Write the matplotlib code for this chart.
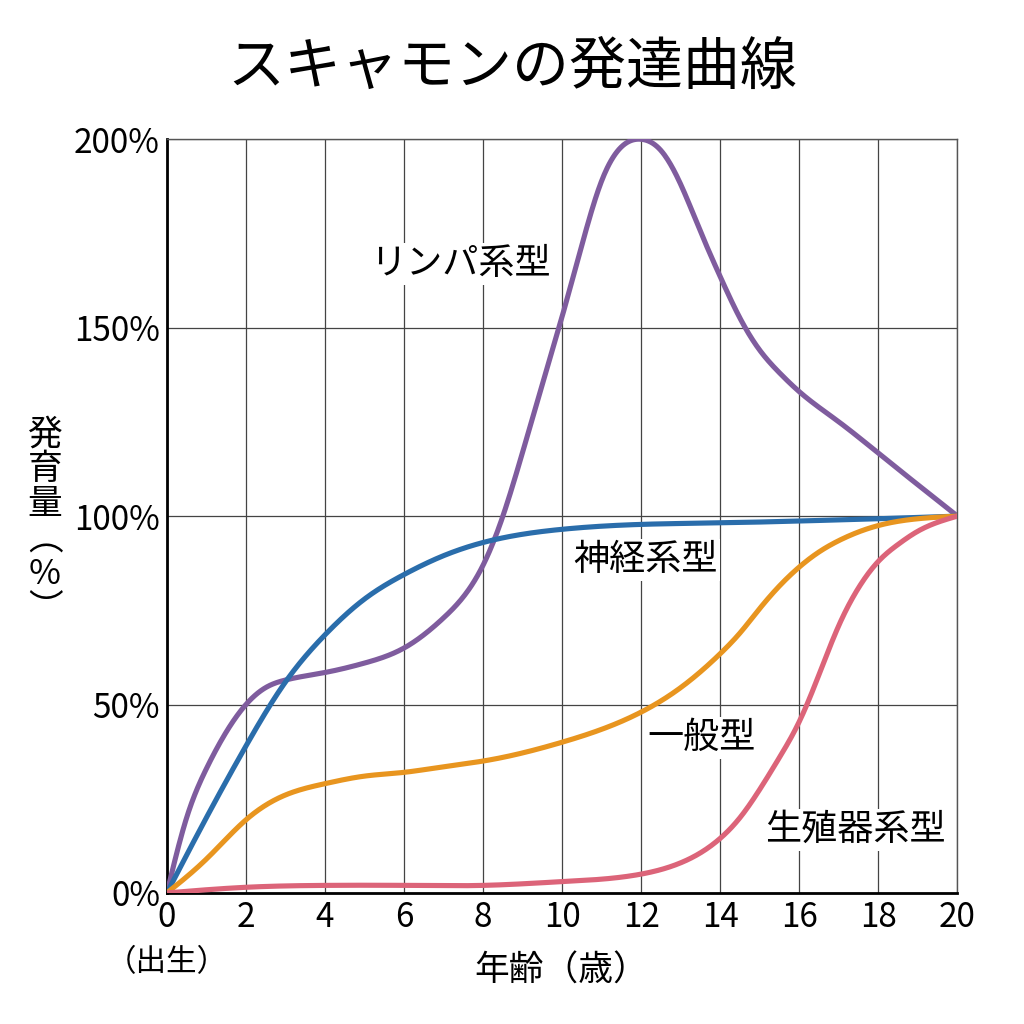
import numpy as np
import matplotlib.pyplot as plt

plt.rcParams['font.family'] = ['Noto Sans CJK JP', 'DejaVu Sans']

# 年齢（歳）と発育量（%）
lymph_age = [0, 0.5, 1, 2, 2.5, 3, 4, 5, 6, 7, 8, 8.5, 9, 9.5, 10, 10.5, 11, 11.5, 12,
             12.5, 13, 13.5, 14, 14.5, 15, 15.5, 16, 17, 18, 19, 20]
lymph_pct = [0, 20, 33, 50, 54.5, 56.5, 58.5, 61, 65, 73, 87, 100, 117, 135, 153, 172, 189, 198, 200,
             197, 188, 175.5, 163.5, 152.5, 144, 138, 133, 125, 116.7, 108.3, 100]

neural_age = [0, 1, 2, 3, 4, 5, 6, 7, 8, 10, 12, 14, 16, 18, 20]
neural_pct = [0, 20, 39, 56, 68.5, 78, 84.5, 89.5, 93, 96.5, 97.8, 98.2, 98.7, 99.3, 100]

general_age = [0, 1, 2, 3, 4, 5, 6, 7, 8, 10, 12, 13, 14, 14.5, 15, 15.5, 16, 16.5, 17, 18, 19, 20]
general_pct = [0, 9, 19.4, 26, 29, 31, 32, 33.5, 35, 40, 48, 54.5, 63.5, 69, 75.5, 81.5, 86.5, 90.5,
               93.5, 97.5, 99.3, 100]

repro_age = [0, 2, 4, 6, 8, 10, 12, 13, 14, 14.5, 15, 15.5, 16, 16.5, 17, 17.5, 18, 18.5, 19, 20]
repro_pct = [0, 1.5, 2, 2, 2, 3, 5, 8, 14.5, 20, 27.5, 36, 45.5, 58, 71, 81, 88, 92.5, 96, 100]

series = [
    (lymph_age, lymph_pct, '#7f5c9e'),
    (neural_age, neural_pct, '#2a6dab'),
    (general_age, general_pct, '#e8951f'),
    (repro_age, repro_pct, '#dc6479'),
]


def spline(x, y, xs):
    # natural cubic spline, just to draw the read points as a smooth curve
    x = np.asarray(x, float)
    y = np.asarray(y, float)
    n = len(x)
    h = np.diff(x)
    A = np.zeros((n, n))
    b = np.zeros(n)
    A[0, 0] = A[-1, -1] = 1
    for i in range(1, n - 1):
        A[i, i - 1] = h[i - 1]
        A[i, i] = 2 * (h[i - 1] + h[i])
        A[i, i + 1] = h[i]
        b[i] = 6 * ((y[i + 1] - y[i]) / h[i] - (y[i] - y[i - 1]) / h[i - 1])
    M = np.linalg.solve(A, b)
    idx = np.clip(np.searchsorted(x, xs) - 1, 0, n - 2)
    hi = h[idx]
    a = x[idx + 1] - xs
    c = xs - x[idx]
    return (M[idx] * a**3 / (6 * hi) + M[idx + 1] * c**3 / (6 * hi)
            + (y[idx] / hi - M[idx] * hi / 6) * a + (y[idx + 1] / hi - M[idx + 1] * hi / 6) * c)


fig = plt.figure(figsize=(10.24, 10.24), dpi=100)
ax = fig.add_axes([0.163, 0.128, 0.772, 0.736])

xs = np.linspace(0, 20, 800)
for age, pct, col in series:
    ax.plot(xs, spline(age, pct, xs), color=col, lw=3.7, solid_capstyle='round', zorder=3)

ax.set_xlim(0, 20)
ax.set_ylim(0, 200)
ax.set_xticks(range(0, 21, 2))
ax.set_yticks([0, 50, 100, 150, 200])
ax.set_yticklabels(['0%', '50%', '100%', '150%', '200%'])
ax.tick_params(length=0, labelsize=24, pad=5)
ax.grid(True, color='#444444', lw=0.9)

for s in ['left', 'bottom']:
    ax.spines[s].set_linewidth(2)
    ax.spines[s].set_color('black')
for s in ['top', 'right']:
    ax.spines[s].set_linewidth(1)
    ax.spines[s].set_color('#555555')

box = dict(facecolor='white', edgecolor='none', pad=2)
ax.text(7.42, 167, 'リンパ系型', fontsize=26, ha='center', va='center', bbox=box, zorder=4)
ax.text(12.1, 88.3, '神経系型', fontsize=26, ha='center', va='center', bbox=box, zorder=4)
ax.text(13.52, 41.1, '一般型', fontsize=26, ha='center', va='center', bbox=box, zorder=4)
ax.text(17.42, 16.7, '生殖器系型', fontsize=26, ha='center', va='center', bbox=box, zorder=4)

fig.text(0.5, 0.934, 'スキャモンの発達曲線', fontsize=41, ha='center', va='center')
fig.text(0.044, 0.49, '発\n育\n量\n︵\n%\n︶', fontsize=25, ha='center', va='center',
         linespacing=1.0)
fig.text(0.163, 0.06, '（出生）', fontsize=22, ha='center', va='center')
fig.text(0.548, 0.052, '年齢（歳）', fontsize=25, ha='center', va='center')

fig.savefig('out.png', dpi=100, facecolor='white')
